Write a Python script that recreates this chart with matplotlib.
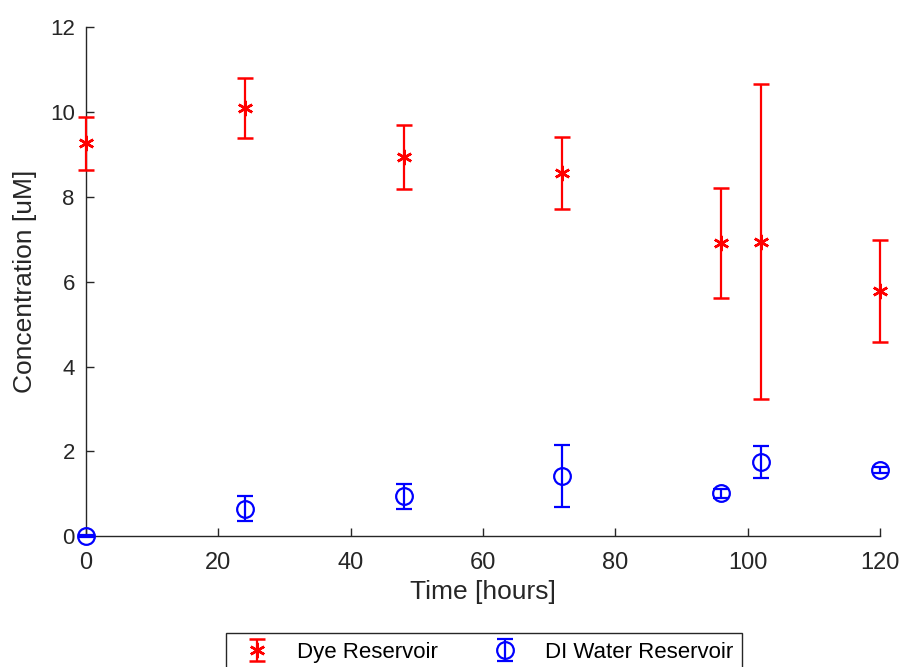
import matplotlib.pyplot as plt

plt.rcParams["font.family"] = ["Liberation Sans", "DejaVu Sans"]

# data
hours = [0, 24, 48, 72, 96, 102, 120]
dye_conc = [9.26, 10.10, 8.93, 8.56, 6.91, 6.94, 5.78]
dye_err = [0.63, 0.71, 0.75, 0.85, 1.29, 3.71, 1.20]
water_conc = [0.0, 0.65, 0.94, 1.41, 1.01, 1.75, 1.57]
water_err = [0.02, 0.29, 0.29, 0.73, 0.10, 0.38, 0.07]

AXIS_GREY = "#262626"


def unclip(container):
    """Let markers and error bars draw past the axes edges."""
    for art in [container.lines[0], *container.lines[1], *container.lines[2]]:
        if art is not None:
            art.set_clip_on(False)


def main():
    fig = plt.figure(figsize=(9.03, 6.67), dpi=100)
    ax = fig.add_axes([0.0952, 0.196, 0.8793, 0.7635])

    h1 = ax.errorbar(hours, dye_conc, yerr=dye_err, fmt="", linestyle="none",
                     marker=(6, 2, 0), markersize=11, color="red",
                     markeredgewidth=1.8, elinewidth=1.6, capsize=5.5,
                     capthick=1.6, zorder=3)
    unclip(h1)

    h2 = ax.errorbar(hours, water_conc, yerr=water_err, fmt="o", color="blue",
                     markersize=12, fillstyle="none", markeredgewidth=1.6,
                     elinewidth=1.6, capsize=5.5, capthick=1.6, zorder=3)
    unclip(h2)

    ax.set_xlim(0, 120)
    ax.set_ylim(0, 12)
    ax.set_xticks(range(0, 121, 20))
    ax.set_yticks(range(0, 13, 2))

    for side in ["top", "right"]:
        ax.spines[side].set_visible(False)
    for side in ["left", "bottom"]:
        ax.spines[side].set_color(AXIS_GREY)
        ax.spines[side].set_linewidth(1.0)
    ax.tick_params(direction="in", length=6, width=1.0, colors=AXIS_GREY)
    ax.tick_params(axis="x", labelsize=17, pad=11)
    ax.tick_params(axis="y", labelsize=16, pad=8)

    ax.set_xlabel("Time [hours]", fontsize=19, color=AXIS_GREY, labelpad=5)
    ax.set_ylabel("Concentration [uM]", fontsize=19, color=AXIS_GREY, labelpad=9)

    leg = fig.legend([h1, h2], ["Dye Reservoir", "DI Water Reservoir"],
                     loc="upper center", bbox_to_anchor=(0.536, 0.051),
                     borderaxespad=0, ncol=2, fontsize=16, fancybox=False,
                     framealpha=1, edgecolor=AXIS_GREY, handlelength=2.0,
                     columnspacing=2.0, borderpad=0.4)
    leg.get_frame().set_linewidth(1.0)

    fig.savefig("out.png", dpi=100)


if __name__ == "__main__":
    main()
